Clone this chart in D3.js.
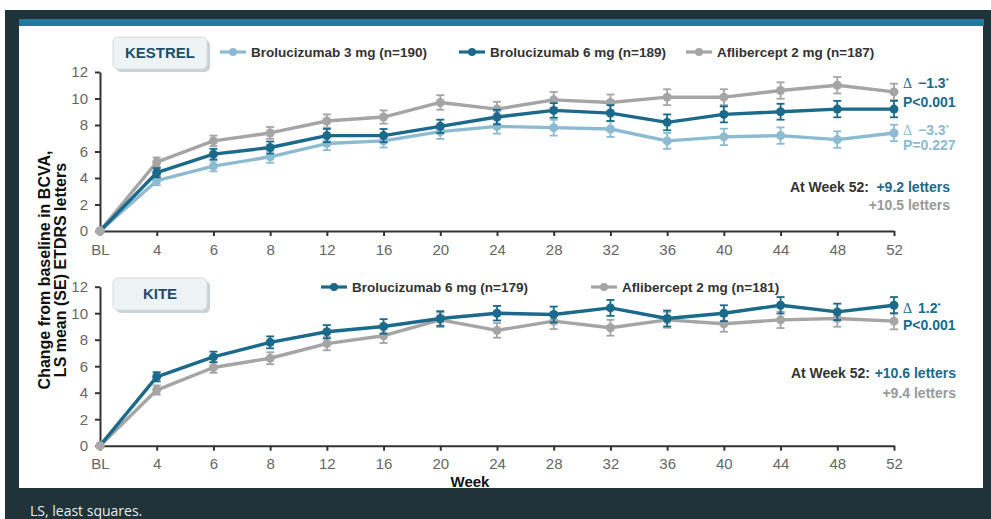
<!DOCTYPE html>
<html><head><meta charset="utf-8">
<script src="https://cdn.jsdelivr.net/npm/d3@7"></script>
<style>body{margin:0;background:#fff;}svg{display:block;font-family:"Liberation Sans",Arial,sans-serif;}</style>
</head><body>
<svg id="c" width="991" height="519"></svg>
<script>
const weeks = ["BL","4","6","8","12","16","20","24","28","32","36","40","44","48","52"];
const yTicks = [0,2,4,6,8,10,12];

// KESTREL
const kestrelBro3 = [0,3.8,4.9,5.6,6.6,6.8,7.5,7.9,7.8,7.7,6.8,7.1,7.2,6.9,7.4];
const kestrelBro6 = [0,4.4,5.8,6.3,7.2,7.2,7.9,8.6,9.1,8.9,8.2,8.8,9.0,9.2,9.2];
const kestrelAfl  = [0,5.2,6.8,7.4,8.3,8.6,9.7,9.2,9.9,9.7,10.1,10.1,10.6,11.0,10.5];
const kestrelBro3SE = [0,0.35,0.4,0.45,0.5,0.5,0.55,0.55,0.6,0.6,0.6,0.62,0.62,0.62,0.62];
const kestrelBro6SE = [0,0.35,0.4,0.45,0.5,0.5,0.5,0.55,0.55,0.6,0.6,0.6,0.6,0.62,0.62];
const kestrelAflSE  = [0,0.35,0.4,0.45,0.5,0.5,0.55,0.55,0.6,0.6,0.6,0.6,0.62,0.62,0.62];

// KITE
const kiteBro6 = [0,5.2,6.7,7.8,8.6,9.0,9.6,10.0,9.9,10.4,9.6,10.0,10.6,10.1,10.6];
const kiteAfl  = [0,4.2,5.9,6.6,7.7,8.3,9.5,8.7,9.4,8.9,9.5,9.2,9.5,9.6,9.4];
const kiteBro6SE = [0,0.35,0.4,0.45,0.5,0.55,0.55,0.55,0.6,0.6,0.6,0.6,0.62,0.62,0.62];
const kiteAflSE  = [0,0.35,0.4,0.45,0.5,0.55,0.55,0.55,0.6,0.6,0.6,0.6,0.62,0.62,0.62];

const C_DARK = "#1b6a8b", C_LIGHT = "#8cbbd1", C_GRAY = "#a5a5a5";

const svg = d3.select("#c");
// frame
svg.append("rect").attr("x",0).attr("y",0).attr("width",991).attr("height",519).attr("fill","#fff");
svg.append("rect").attr("x",5).attr("y",10).attr("width",986).attr("height",509).attr("fill","#1f3338");
svg.append("rect").attr("x",19).attr("y",26).attr("width",964).attr("height",462).attr("fill","#fff");
svg.append("rect").attr("x",19).attr("y",19).attr("width",965).attr("height",7).attr("fill","#1b7ca0");
svg.append("text").attr("x",30).attr("y",516).attr("fill","#e6ecee")
  .style("font-family","'Open Sans',sans-serif").style("font-size","14px").text("LS, least squares.");

const x = d3.scalePoint().domain(weeks).range([100, 894]);

function panel(y0, y12, series, boxLabel, boxY, legendItems, legendY) {
  const y = d3.scaleLinear().domain([0,12]).range([y0, y12]);
  const g = svg.append("g");
  const ya = g.append("g").attr("transform","translate(100,0)")
    .call(d3.axisLeft(y).tickValues(yTicks).tickSize(5).tickSizeOuter(0).tickPadding(7));
  const xa = g.append("g").attr("transform",`translate(0,${y0})`)
    .call(d3.axisBottom(x).tickSize(5).tickSizeOuter(0).tickPadding(8));
  [ya,xa].forEach(a=>{
    a.select(".domain").attr("stroke","#333").attr("stroke-width",2);
    a.selectAll(".tick line").attr("stroke","#333").attr("stroke-width",2);
    a.selectAll(".tick text").attr("fill","#666").style("font-size","15px").style("font-family","'Liberation Sans',Arial,sans-serif");
  });
  series.forEach(s=>{
    const pts = weeks.map((w,i)=>({w, v:s.values[i], se:s.se[i]}));
    g.append("path").datum(pts).attr("fill","none").attr("stroke",s.color).attr("stroke-width",3.4)
      .attr("stroke-linejoin","round")
      .attr("d", d3.line().x(d=>x(d.w)).y(d=>y(d.v)));
    const eb = g.append("g").attr("stroke",s.color).attr("stroke-width",1.8);
    pts.filter(d=>d.se>0).forEach(d=>{
      const cx = x(d.w), t = y(d.v+d.se), b = y(d.v-d.se);
      eb.append("line").attr("x1",cx).attr("x2",cx).attr("y1",t).attr("y2",b);
      eb.append("line").attr("x1",cx-4).attr("x2",cx+4).attr("y1",t).attr("y2",t);
      eb.append("line").attr("x1",cx-4).attr("x2",cx+4).attr("y1",b).attr("y2",b);
    });
    g.selectAll(null).data(pts).enter().append("circle")
      .attr("cx",d=>x(d.w)).attr("cy",d=>y(d.v)).attr("r",4.5).attr("fill",d=>d.w==="BL"?"#aaa":s.color);
  });
  const bx = g.append("g");
  bx.append("rect").attr("x",116).attr("y",boxY+3).attr("width",94).attr("height",32).attr("rx",5)
    .attr("fill","#c9d2d6");
  bx.append("rect").attr("x",113).attr("y",boxY).attr("width",94).attr("height",32).attr("rx",5)
    .attr("fill","#eef3f6").attr("stroke","#d5dde1");
  bx.append("text").attr("x",160).attr("y",boxY+21).attr("text-anchor","middle")
    .attr("fill","#1b4f6c").style("font-weight","bold").style("font-size","15px").text(boxLabel);
  legendItems.forEach(l=>{
    g.append("line").attr("x1",l.x).attr("x2",l.x+26).attr("y1",legendY).attr("y2",legendY)
      .attr("stroke",l.color).attr("stroke-width",3.2);
    g.append("circle").attr("cx",l.x+13).attr("cy",legendY).attr("r",4).attr("fill",l.color);
    g.append("text").attr("x",l.x+31).attr("y",legendY+5).attr("fill","#333")
      .style("font-weight","bold").style("font-size","13.5px").text(l.label);
  });
  return g;
}

panel(231, 72, [
  {values:kestrelAfl, se:kestrelAflSE, color:C_GRAY},
  {values:kestrelBro3, se:kestrelBro3SE, color:C_LIGHT},
  {values:kestrelBro6, se:kestrelBro6SE, color:C_DARK}
], "KESTREL", 37, [
  {x:220, color:C_LIGHT, label:"Brolucizumab 3 mg (n=190)"},
  {x:459, color:C_DARK, label:"Brolucizumab 6 mg (n=189)"},
  {x:686, color:C_GRAY, label:"Aflibercept 2 mg (n=187)"}
], 52);

panel(445.7, 286.7, [
  {values:kiteAfl, se:kiteAflSE, color:C_GRAY},
  {values:kiteBro6, se:kiteBro6SE, color:C_DARK}
], "KITE", 278, [
  {x:321, color:C_DARK, label:"Brolucizumab 6 mg (n=179)"},
  {x:591, color:C_GRAY, label:"Aflibercept 2 mg (n=181)"}
], 287);

function delta(g, xx, yy, color, val) {
  const t = g.append("text").attr("x",xx).attr("y",yy).attr("fill",color).style("font-size","14px").style("font-weight","bold");
  t.append("tspan").style("font-family","'Liberation Serif',serif").style("font-weight","normal").text("Δ");
  t.append("tspan").attr("dx",6).text(val);
  t.append("tspan").attr("dy",-5).style("font-size","8px").text("*");
}
function txt(g, xx, yy, color, s, anchor) {
  g.append("text").attr("x",xx).attr("y",yy).attr("fill",color).attr("text-anchor",anchor||"start")
    .style("font-size","14px").style("font-weight","bold").text(s);
}
delta(svg, 903, 88, C_DARK, "−1.3");
txt(svg, 903, 107, C_DARK, "P<0.001");
delta(svg, 903, 135, C_LIGHT, "−3.3");
txt(svg, 903, 150, C_LIGHT, "P=0.227");
txt(svg, 869, 192, "#333", "At Week 52:", "end");
txt(svg, 950, 192, C_DARK, "+9.2 letters", "end");
txt(svg, 950, 210, "#999", "+10.5 letters", "end");

delta(svg, 903, 313, C_DARK, "1.2");
txt(svg, 903, 330, C_DARK, "P<0.001");
txt(svg, 870, 378, "#333", "At Week 52:", "end");
txt(svg, 956, 378, C_DARK, "+10.6 letters", "end");
txt(svg, 956, 398, "#999", "+9.4 letters", "end");

const yt = svg.append("text").attr("transform","translate(0,270) rotate(-90)").attr("text-anchor","middle")
  .attr("fill","#111").style("font-weight","bold").style("font-size","16px");
yt.append("tspan").attr("x",0).attr("y",50).text("Change from baseline in BCVA,");
yt.append("tspan").attr("x",0).attr("y",66).text("LS mean (SE) ETDRS letters");
svg.append("text").attr("x",470).attr("y",487).attr("text-anchor","middle").attr("fill","#111")
  .style("font-weight","bold").style("font-size","15px").text("Week");
</script>
</body></html>
